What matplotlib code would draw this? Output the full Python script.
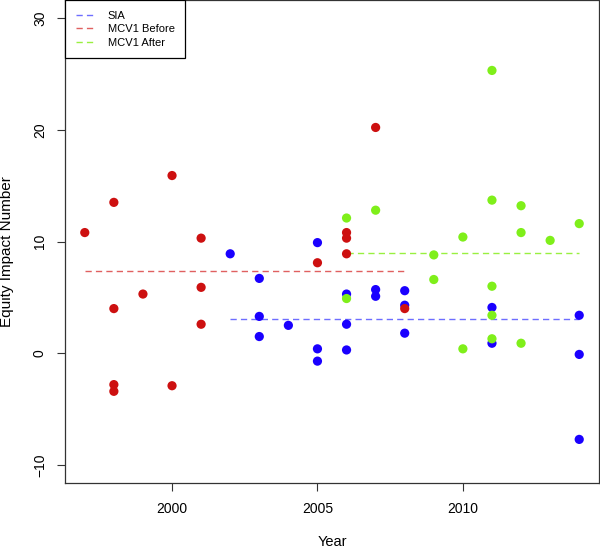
import matplotlib
matplotlib.use("Agg")
import matplotlib.pyplot as plt

plt.rcParams['font.family'] = ['Liberation Sans', 'DejaVu Sans']

# SIA points
sia_years = [2002, 2003, 2003, 2003, 2004, 2005, 2005, 2005, 2006, 2006, 2006,
             2007, 2007, 2008, 2008, 2008, 2011, 2011, 2014, 2014, 2014]
sia_values = [8.9, 6.7, 3.3, 1.5, 2.5, 9.9, 0.4, -0.7, 5.3, 2.6, 0.3,
              5.7, 5.1, 5.6, 4.3, 1.8, 4.1, 0.9, 3.4, -0.1, -7.7]

# MCV1 before points
before_years = [1997, 1998, 1998, 1998, 1998, 1999, 2000, 2000, 2001, 2001, 2001,
                2005, 2006, 2006, 2006, 2007, 2008]
before_values = [10.8, 13.5, 4.0, -2.8, -3.4, 5.3, 15.9, -2.9, 10.3, 5.9, 2.6,
                 8.1, 10.8, 10.3, 8.9, 20.2, 4.0]

# MCV1 after points
after_years = [2006, 2006, 2007, 2009, 2009, 2010, 2010, 2011, 2011, 2011, 2011, 2011,
               2012, 2012, 2012, 2013, 2014]
after_values = [12.1, 4.9, 12.8, 8.8, 6.6, 10.4, 0.4, 25.3, 13.7, 6.0, 3.4, 1.3,
                13.2, 10.8, 0.9, 10.1, 11.6]

# mean levels of the dashed lines
sia_mean = 3.05
before_mean = 7.4
after_mean = 8.95

labels = ['SIA', 'MCV1 Before', 'MCV1 After']
colors = ['#1a00ff', '#cd1010', '#7fef1a']
line_colors = ['#6e6eff', '#e06060', '#99f040']

fig = plt.figure(figsize=(6, 5.49), dpi=100)
ax = fig.add_axes([65 / 600, 66 / 549, 534 / 600, 483 / 549])

groups = [(sia_years, sia_values, sia_mean),
          (before_years, before_values, before_mean),
          (after_years, after_values, after_mean)]

for (yrs, vals, m), lab, c, lc in zip(groups, labels, colors, line_colors):
    ax.scatter(yrs, vals, s=44, color=c, edgecolors='none', zorder=3)
    ax.plot([min(yrs), max(yrs)], [m, m], color=lc, lw=1.0,
            dashes=(4.5, 3), label=lab, zorder=2)

ax.set_xlim(1996.32, 2014.68)
ax.set_ylim(-11.6, 31.6)
ax.set_xticks([2000, 2005, 2010])
ax.set_yticks([-10, 0, 10, 20, 30])
ax.tick_params(axis='both', direction='out', length=6, width=0.8,
               labelsize=10, color='#333333')
ax.tick_params(axis='x', pad=8)
ax.tick_params(axis='y', pad=7, labelrotation=90)
for t in ax.get_yticklabels():
    t.set_va('center')
for sp in ax.spines.values():
    sp.set_linewidth(0.9)
    sp.set_color('#333333')

ax.set_xlabel('Year', fontsize=10.5, labelpad=13)
ax.set_ylabel('Equity Impact Number', fontsize=11)
ax.yaxis.set_label_coords(-0.095, 0.48)

leg = ax.legend(loc='upper left', bbox_to_anchor=(0, 1), borderaxespad=0,
                fancybox=False, edgecolor='black', framealpha=1, fontsize=8,
                handlelength=1.6, handletextpad=1.3, labelspacing=0.32,
                borderpad=0.95)
leg.get_frame().set_linewidth(0.9)

fig.savefig('out.png', dpi=100)
